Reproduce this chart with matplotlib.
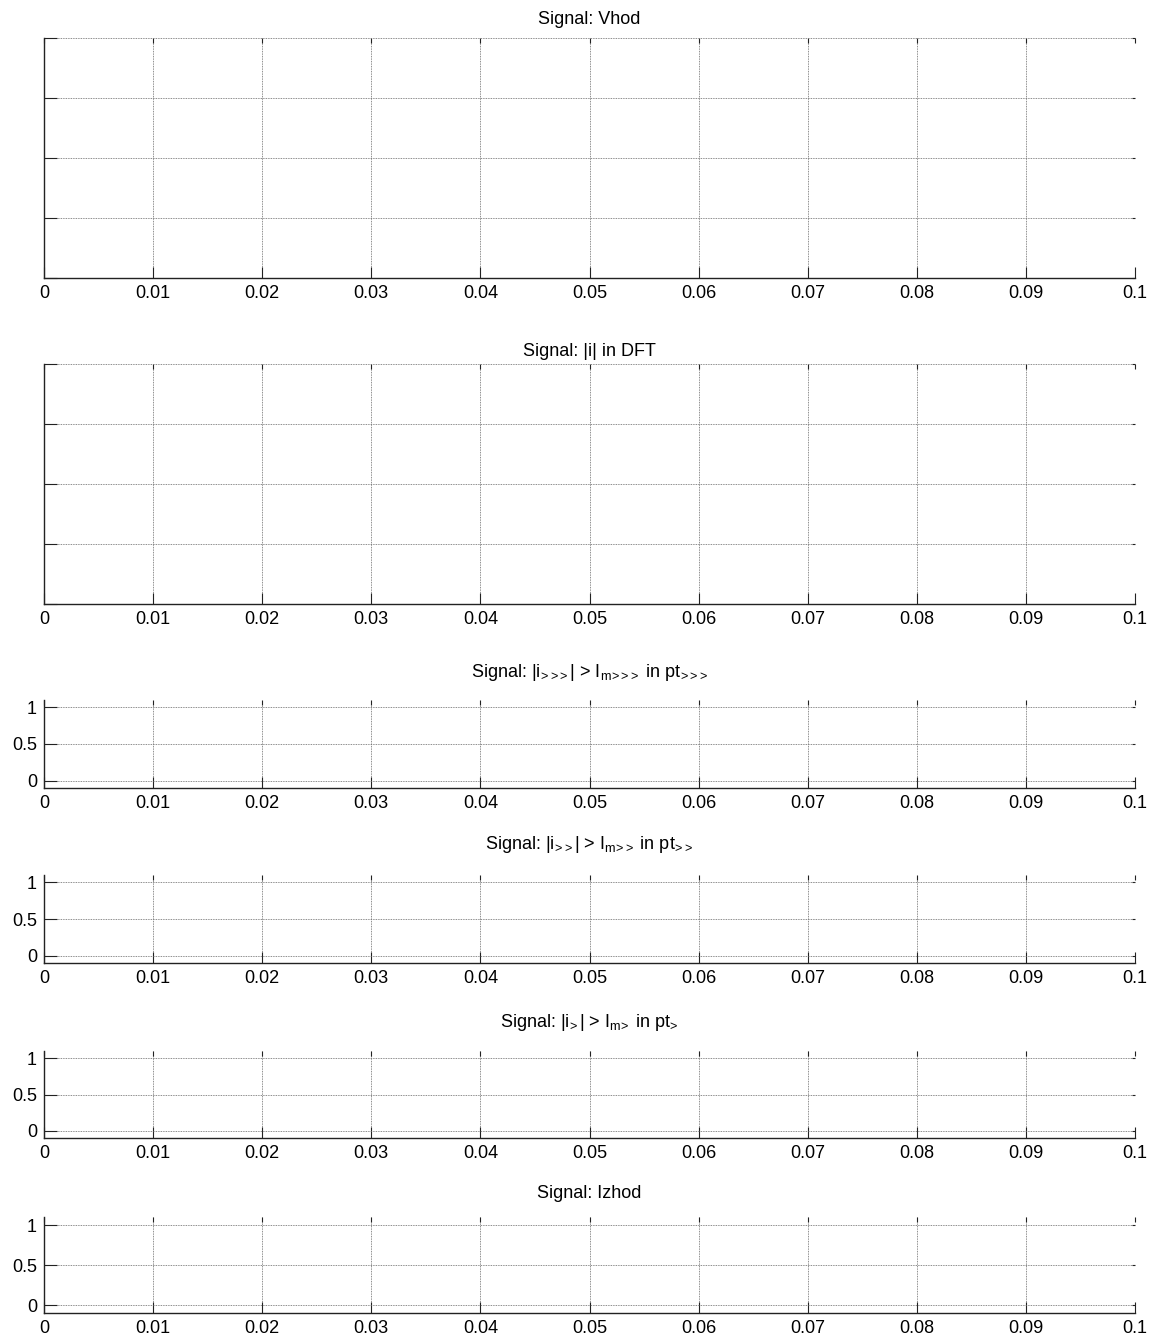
import matplotlib
matplotlib.use('Agg')
import matplotlib.pyplot as plt
import numpy as np


plt.rcParams['font.family'] = ['Liberation Sans', 'DejaVu Sans']
plt.rcParams['mathtext.fontset'] = 'custom'
plt.rcParams['mathtext.rm'] = 'Liberation Sans'
plt.rcParams['mathtext.it'] = 'Liberation Sans'
plt.rcParams['mathtext.default'] = 'regular'


def arrows(n):
	# mathtext pads '>' like a relation, pull the glyphs a bit closer
	return r'\!' + r'\!'.join(['>']*n)


# signal titles, one per panel
titles = [
	'Signal: Vhod',
	'Signal: |i| in DFT',
	'Signal: |i$_{%s}$| > I$_{m%s}$ in pt$_{%s}$' % (arrows(3), arrows(3), arrows(3)),
	'Signal: |i$_{%s}$| > I$_{m%s}$ in pt$_{%s}$' % (arrows(2), arrows(2), arrows(2)),
	'Signal: |i$_{%s}$| > I$_{m%s}$ in pt$_{%s}$' % (arrows(1), arrows(1), arrows(1)),
	'Signal: Izhod',
]

# time axis ticks (s)
x_ticks = [0, 0.01, 0.02, 0.03, 0.04, 0.05, 0.06, 0.07, 0.08, 0.09, 0.1]
x_labels = ['0', '0.01', '0.02', '0.03', '0.04', '0.05', '0.06', '0.07', '0.08', '0.09', '0.1']

# y ticks: the two big panels have unlabeled ticks, the logic panels 0 / 0.5 / 1
big_y_ticks = [0, 0.25, 0.5, 0.75, 1.0]
logic_y_ticks = [0, 0.5, 1]
logic_y_labels = ['0', '0.5', '1']

# panel layout in pixels: (top, bottom, title baseline)
W, H = 1160, 1342
left_px, right_px = 44, 1135
panels = [
	(38, 278, 24),
	(364, 604, 356),
	(700, 788, 677),
	(875, 963, 849),
	(1051, 1138, 1027),
	(1217, 1313, 1198),
]


def style_axes(ax, ylim, yticks, ylabels):
	ax.set_xlim(x_ticks[0], x_ticks[-1])
	ax.set_ylim(ylim)
	ax.set_xticks(x_ticks)
	ax.set_xticklabels(x_labels)
	ax.set_yticks(yticks)
	ax.set_yticklabels(ylabels)
	ax.grid(True, color='#666666', linestyle=(0, (1, 1)), linewidth=0.6)
	ax.set_axisbelow(True)
	for side in ['top', 'right']:
		ax.spines[side].set_visible(False)
	for side in ['left', 'bottom']:
		ax.spines[side].set_color('#222222')
		ax.spines[side].set_linewidth(1.0)
	ax.tick_params(axis='x', direction='in', length=8, width=0.8, color='#222222',
		labelsize=13, pad=5, top=True)
	ax.tick_params(axis='y', direction='in', length=9, width=0.8, color='#222222',
		labelsize=13, pad=5, right=True)
	# MATLAB draws the opposite-side ticks much shorter
	for t in ax.xaxis.get_major_ticks():
		t.tick2line.set_markersize(3.5)
	for t in ax.yaxis.get_major_ticks():
		t.tick2line.set_markersize(2.5)


fig = plt.figure(figsize=(W/100, H/100), dpi=100)

for i in range(0, len(panels)):
	top, bottom, base = panels[i]
	ax = fig.add_axes([left_px/W, 1-bottom/H, (right_px-left_px)/W, (bottom-top)/H])
	if i < 2:
		style_axes(ax, (0, 1), big_y_ticks, ['']*len(big_y_ticks))
	else:
		style_axes(ax, (-0.1, 1.1), logic_y_ticks, logic_y_labels)
	fig.text((left_px+right_px)/2/W, 1-base/H, titles[i], ha='center', va='baseline', fontsize=13)

fig.savefig('out.png', dpi=100, facecolor='white')
